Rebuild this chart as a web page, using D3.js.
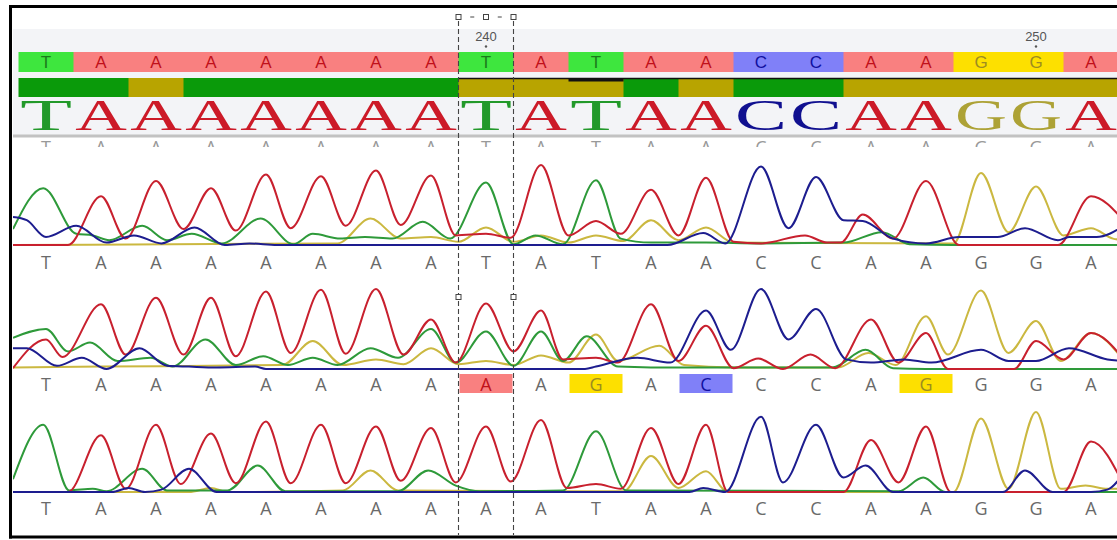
<!DOCTYPE html>
<html><head><meta charset="utf-8">
<script src="https://cdn.jsdelivr.net/npm/d3@7"></script>
<style>html,body{margin:0;padding:0;background:#fff;} svg{display:block;}</style>
</head><body>
<svg id="chart" width="1117" height="540"></svg>
<script>
// ---------- data ----------
const bases = ["T","A","A","A","A","A","A","A","T","A","T","A","A","C","C","A","A","G","G","A"];
const quality = ["g","g","o","g","g","g","g","g","o","o","o","g","o","g","g","o","o","o","o","o"];
const tickIndex = [8, 18];
const tickLabels = ["240", "250"];
const calls1 = ["T","A","A","A","A","A","A","A","T","A","T","A","A","C","C","A","A","G","G","A"];
const calls2 = ["T","A","A","A","A","A","A","A","A","A","G","A","C","C","C","A","G","G","G","A"];
const calls2Highlight = [8, 10, 12, 16];
const calls3 = ["T","A","A","A","A","A","A","A","A","A","T","A","A","C","C","A","A","G","G","A"];
const selection = [7.5, 8.5];

// traces: [base position, signal (0-100)]
const trace1A = [[-0.6,0],[0.4,0],[1,61],[1.45,8],[2,80],[2.5,20],[3,71],[3.45,18],[4,88],[4.45,21],[5,86],[5.45,24],[6,93],[6.45,25],[7,87],[7.45,12],[8,14],[8.45,9],[9,100],[9.5,12],[10,30],[10.45,14],[11,69],[11.5,12],[12,84],[12.5,4],[13,2],[13.8,12],[14.2,3],[14.45,3],[14.85,38],[15.4,8],[16,80],[16.6,0],[18.4,0],[19,61],[19.6,30]];
const trace1C = [[-0.6,35],[-0.35,31],[0,10],[0.55,24],[1.1,3],[1.6,12],[2.1,2],[2.7,22],[3.25,0],[3.7,2],[4.2,0],[11.3,0],[11.95,15],[12.35,2],[13,98],[13.5,21],[14,85],[14.5,31],[14.85,30],[15.4,8],[16,2],[16.6,10],[17.3,10],[17.8,21],[18.4,6],[18.6,10],[19.1,10],[19.6,24]];
const trace1G = [[-0.6,0],[5.3,2],[5.9,33],[6.45,8],[7,10],[7.5,4],[8,22],[8.5,4],[9,12],[9.5,3],[10,12],[10.5,5],[11,31],[11.5,6],[12,22],[12.5,3],[16.5,2],[17,90],[17.5,16],[18,73],[18.5,12],[19,21],[19.4,8],[19.6,6]];
const trace1T = [[-0.6,20],[-0.05,71],[0.55,14],[0.85,12],[1.15,6],[1.75,24],[2.2,6],[2.65,14],[3.2,2],[3.9,33],[4.5,1],[4.85,14],[5.35,8],[5.8,10],[6.3,8],[6.85,29],[7.35,8],[8,78],[8.5,1],[8.9,12],[9.4,1],[10,81],[10.45,8],[11,3],[12,3],[13,2],[14.5,3],[15.2,16],[15.7,1],[16.5,0],[19.6,0]];

const trace2A = [[-0.6,1],[0,37],[0.3,15],[1,81],[1.45,18],[2,89],[2.5,18],[3,89],[3.45,16],[4,97],[4.45,20],[5,99],[5.45,19],[6,100],[6.5,18],[7,62],[7.45,8],[8,82],[8.5,22],[9,73],[9.4,12],[10,14],[10.4,8],[11,81],[11.5,10],[12,54],[12.5,1],[12.95,13],[13.4,0],[13.9,18],[14.35,1],[15,62],[15.5,8],[16,45],[16.4,0],[17.6,0],[18,35],[18.5,12],[19,45],[19.6,12]];
const trace2C = [[-0.6,26],[-0.35,26],[0.2,4],[0.65,14],[1.1,0],[1.7,26],[2.2,4],[2.6,3],[3.1,2],[3.8,3],[4.0,0],[9.8,0],[10,3],[10.75,14],[11.35,8],[12,73],[12.45,24],[13,100],[13.5,37],[14,75],[14.55,12],[15,8],[15.6,12],[16.1,8],[17,24],[17.5,10],[18,10],[18.6,26],[19.3,12],[19.6,10]];
const trace2G = [[-0.6,2],[1,3],[4.3,5],[4.85,35],[5.4,5],[6,12],[6.5,6],[7,26],[7.5,6],[8,10],[8.5,5],[9,17],[9.5,8],[10,43],[10.4,10],[11.15,29],[11.6,5],[12.5,2],[14.4,2],[14.95,20],[15.45,5],[16,66],[16.4,18],[17,98],[17.5,20],[18,60],[18.45,10],[19,45],[19.6,10]];
const trace2T = [[-0.6,39],[0,50],[0.4,22],[0.8,33],[1.3,10],[1.9,14],[2.3,3],[2.9,37],[3.45,5],[3.95,16],[4.4,5],[4.85,14],[5.3,5],[5.9,26],[6.4,14],[7,50],[7.45,8],[8,47],[8.5,4],[9,47],[9.4,10],[9.83,41],[10.4,3],[11,2],[14.3,2],[14.9,24],[15.4,1],[16,0],[19.6,0]];

const trace3A = [[-0.6,0],[0.4,0],[1,71],[1.45,4],[2,84],[2.45,10],[3,73],[3.45,11],[4,88],[4.45,11],[5,84],[5.45,11],[6,82],[6.45,14],[7,80],[7.45,12],[8,82],[8.45,13],[9,90],[9.47,5],[10,10],[10.45,4],[11,80],[11.5,10],[12,84],[12.4,0],[14.5,0],[15,65],[15.5,12],[16,82],[16.45,0],[18.5,0],[19,63],[19.6,8]];
const trace3C = [[-0.6,0],[1.2,0],[1.5,5],[1.8,0],[2.1,3],[2.6,29],[3.1,0],[11.7,0],[11.95,5],[12.35,0],[13,94],[13.4,12],[14,84],[14.5,18],[14.9,33],[15.4,0],[17.4,0],[17.8,27],[18.3,0],[19,0],[19.3,3],[19.6,24]];
const trace3G = [[-0.6,0],[2.6,0],[3,5],[3.3,0],[5.4,2],[5.9,27],[6.4,2],[10.5,1],[11,45],[11.5,5],[12,26],[12.4,0],[16.5,0],[17,92],[17.5,4],[18,100],[18.45,4],[18.9,8],[19.3,4],[19.6,4]];
const trace3T = [[-0.6,16],[-0.05,84],[0.42,2],[0.85,4],[1.1,1],[1.75,29],[2.2,2],[3.3,2],[3.85,33],[4.35,1],[6.4,1],[6.95,27],[7.45,8],[7.9,1],[9.4,2],[10,76],[10.55,2],[15.5,1],[15.95,18],[16.35,0],[19.6,0]];

// ---------- styles ----------
const lineColor = {A:"#c8202e", C:"#1d1d8f", G:"#cbb840", T:"#2e9a3a"};
const boxColor  = {A:"#f98080", C:"#8080f8", G:"#fde000", T:"#3ee63e"};
const textColor = {A:"#c0101a", C:"#1010a0", G:"#9c8c20", T:"#1b7a1b"};
const bigColor  = {A:"#cc1a28", C:"#101090", G:"#ada236", T:"#22992a"};
const qualColor = {g:"#0a9a0a", o:"#b8a400"};

const svg = d3.select("#chart");
const x = d3.scaleLinear().domain([0, 19]).range([46, 1091]);
const step = x(1) - x(0);

const defs = svg.append("defs");
defs.append("clipPath").attr("id","plot").append("rect").attr("x",13).attr("y",8).attr("width",1104).attr("height",527);
defs.append("clipPath").attr("id","peek").append("rect").attr("x",13).attr("y",138).attr("width",1104).attr("height",9);

const g = svg.append("g").attr("clip-path","url(#plot)");

// header band
g.append("rect").attr("x",13).attr("y",29).attr("width",1104).attr("height",107).attr("fill","#f3f4f7");

// ruler ticks
tickIndex.forEach((ti, k) => {
  g.append("text").attr("x", x(ti)).attr("y", 41).attr("text-anchor","middle")
   .attr("font-family","Liberation Sans, Arial, sans-serif").attr("font-size",13).attr("fill","#555").text(tickLabels[k]);
  g.append("circle").attr("cx", x(ti)).attr("cy", 46.5).attr("r", 1.2).attr("fill","#555");
});

// consensus boxes
g.selectAll("rect.cb").data(bases).join("rect").attr("class","cb")
  .attr("x",(d,i)=>x(i)-step/2).attr("y",52).attr("width",step+0.5).attr("height",20)
  .attr("fill",d=>boxColor[d]);
g.selectAll("text.cb").data(bases).join("text").attr("class","cb")
  .attr("x",(d,i)=>x(i)).attr("y",68).attr("text-anchor","middle")
  .attr("font-family","Liberation Sans, Arial, sans-serif").attr("font-size",17)
  .attr("fill",d=>textColor[d]).text(d=>d);

// quality bar
g.selectAll("rect.q").data(quality).join("rect").attr("class","q")
  .attr("x",(d,i)=>x(i)-step/2).attr("y",78).attr("width",step+0.5).attr("height",19)
  .attr("fill",d=>qualColor[d]);
g.append("line").attr("x1",x(selection[0])).attr("x2",1117).attr("y1",78.5).attr("y2",78.5).attr("stroke","#111").attr("stroke-width",1.5);
g.append("line").attr("x1",x(9.5)).attr("x2",x(10.5)).attr("y1",80).attr("y2",80).attr("stroke","#111").attr("stroke-width",3);

// big logo letters
const big = g.selectAll("text.big").data(bases).join("text").attr("class","big")
  .attr("text-anchor","middle")
  .attr("font-family","Liberation Serif, Times New Roman, serif").attr("font-size",44)
  .attr("fill",d=>bigColor[d]).text(d=>d);
big.each(function(d,i){
  const w = this.getBBox().width;
  const sx = (step-3)/w;
  d3.select(this).attr("transform",`translate(${x(i)},130) scale(${sx},1)`);
});

// separator
g.append("rect").attr("x",13).attr("y",134.5).attr("width",1104).attr("height",3).attr("fill","#c2c2c2");

// peeking labels row (tops of the labels of a row scrolled out of view)
const peek = svg.append("g").attr("clip-path","url(#peek)");
peek.selectAll("text").data(calls1).join("text")
  .attr("x",(d,i)=>x(i)).attr("y",154).attr("text-anchor","middle")
  .attr("font-family","Open Sans, Liberation Sans, sans-serif").attr("font-size",18)
  .attr("fill","#999").text(d=>d);

// panels
const panels = [
  {base:245, top:165, labelY:269, calls:calls1, traces:{G:trace1G,T:trace1T,A:trace1A,C:trace1C}},
  {base:369, top:289, labelY:391, calls:calls2, traces:{G:trace2G,T:trace2T,A:trace2A,C:trace2C}, highlight:calls2Highlight},
  {base:492, top:412, labelY:515, calls:calls3, traces:{G:trace3G,T:trace3T,A:trace3A,C:trace3C}}
];

panels.forEach(p => {
  const y = d3.scaleLinear().domain([0,100]).range([p.base, p.top]);
  const line = d3.line().x(d=>x(d[0])).y(d=>y(d[1])).curve(d3.curveMonotoneX);
  ["G","T","A","C"].forEach(ch => {
    g.append("path").attr("d", line(p.traces[ch])).attr("fill","none")
     .attr("stroke", lineColor[ch]).attr("stroke-width",2).attr("stroke-linejoin","round");
  });
  if (p.highlight) {
    g.selectAll(null).data(p.highlight).join("rect")
     .attr("x",i=>x(i)-step/2+1).attr("y",p.labelY-17).attr("width",step-2).attr("height",19)
     .attr("fill",i=>boxColor[p.calls[i]]);
  }
  g.selectAll(null).data(p.calls).join("text")
   .attr("x",(d,i)=>x(i)).attr("y",p.labelY).attr("text-anchor","middle")
   .attr("font-family","Open Sans, Liberation Sans, sans-serif").attr("font-size",18)
   .attr("fill",(d,i)=> (p.highlight && p.highlight.includes(i)) ? textColor[d] : "#6a6a6a")
   .text(d=>d);
});

// selection dashed lines and handles
selection.forEach(s => {
  g.append("line").attr("x1",x(s)).attr("x2",x(s)).attr("y1",21).attr("y2",540)
   .attr("stroke","#444").attr("stroke-width",1.1).attr("stroke-dasharray","5,3");
});
const handleXs = [x(selection[0]), x(8), x(selection[1])];
handleXs.forEach(hx => {
  g.append("rect").attr("x",hx-2.5).attr("y",14.5).attr("width",5).attr("height",5)
   .attr("fill","#fff").attr("stroke","#444").attr("stroke-width",1);
});
[ (handleXs[0]+handleXs[1])/2, (handleXs[1]+handleXs[2])/2 ].forEach(mx => {
  g.append("line").attr("x1",mx-2).attr("x2",mx+2).attr("y1",17).attr("y2",17).attr("stroke","#444");
});
selection.forEach(s => {
  g.append("rect").attr("x",x(s)-2.5).attr("y",294.5).attr("width",5).attr("height",5)
   .attr("fill","#fff").attr("stroke","#444").attr("stroke-width",1);
});

// frame
svg.append("line").attr("x1",10.5).attr("x2",10.5).attr("y1",5).attr("y2",538.5).attr("stroke","#000").attr("stroke-width",3);
svg.append("line").attr("x1",9).attr("x2",1117).attr("y1",6.5).attr("y2",6.5).attr("stroke","#000").attr("stroke-width",3);
svg.append("line").attr("x1",9).attr("x2",1117).attr("y1",537).attr("y2",537).attr("stroke","#000").attr("stroke-width",3);
</script>
</body></html>
